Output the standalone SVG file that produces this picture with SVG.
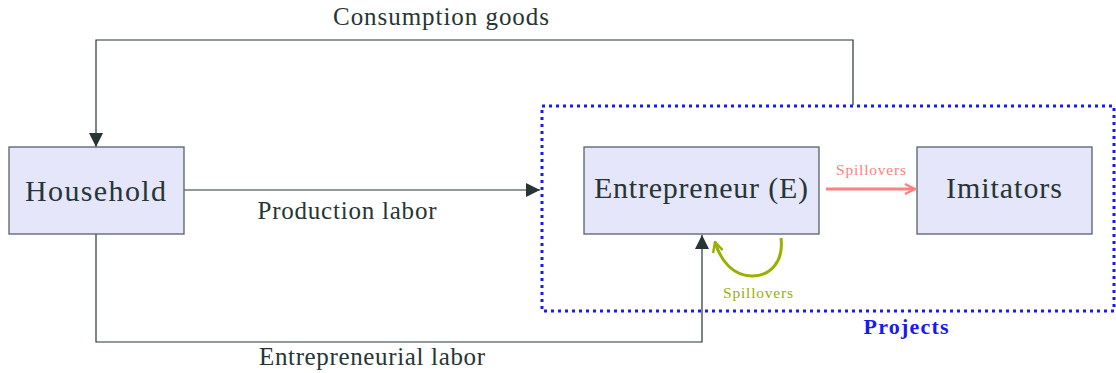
<svg xmlns="http://www.w3.org/2000/svg" width="1116" height="373" viewBox="0 0 1116 373">
  <style>
    .box { fill: #e6e6fa; stroke: #59606a; stroke-width: 1.3; }
    .lbl { font-family: "Liberation Serif", "DejaVu Serif", serif; fill: #263535; }
    .flow { fill: none; stroke: #263535; stroke-width: 1.2; }
  </style>
  <defs>
    <marker id="tri" viewBox="0 0 14 14" refX="14" refY="7" markerWidth="14" markerHeight="14" markerUnits="userSpaceOnUse" orient="auto">
      <path d="M0,0 L14,7 L0,14 Z" fill="#263535"/>
    </marker>
    <marker id="redhead" viewBox="0 0 12 12" refX="11" refY="6" markerWidth="12" markerHeight="12" markerUnits="userSpaceOnUse" orient="auto">
      <path d="M1,1 L11,6 L1,11" fill="none" stroke="#ff8080" stroke-width="2.4" stroke-linejoin="miter"/>
    </marker>
    <marker id="greenhead" viewBox="0 0 12 12" refX="11" refY="6" markerWidth="12" markerHeight="12" markerUnits="userSpaceOnUse" orient="auto">
      <path d="M1,1 L11,6 L1,11" fill="none" stroke="#9ab000" stroke-width="2.4"/>
    </marker>
  </defs>

  <!-- Projects boundary -->
  <g id="projects">
    <rect x="542" y="106" width="572" height="205" fill="none" stroke="#1a1aee" stroke-width="3" stroke-dasharray="3 4"/>
    <text x="906" y="334" text-anchor="middle" font-family="Liberation Serif, serif" font-weight="bold" font-size="22" fill="#1a1aee" textLength="85">Projects</text>
  </g>

  <!-- Connectors -->
  <g id="connectors">
    <path class="flow" d="M853,105 V40 H96 V147" marker-end="url(#tri)"/>
    <path class="flow" d="M184,190 H540" marker-end="url(#tri)"/>
    <path class="flow" d="M96,234 V342 H702 V235" marker-end="url(#tri)"/>
    <path d="M826,189 H915" fill="none" stroke="#ff8080" stroke-width="3" marker-end="url(#redhead)"/>
    <path d="M781,238 C784,262 770,276 752,276 C734,276 721,262 715,242" fill="none" stroke="#9ab000" stroke-width="3" marker-end="url(#greenhead)"/>
    <text class="lbl" x="441" y="25" text-anchor="middle" font-size="25" textLength="216">Consumption goods</text>
    <text class="lbl" x="347" y="219" text-anchor="middle" font-size="25" textLength="179">Production labor</text>
    <text class="lbl" x="372" y="365" text-anchor="middle" font-size="25" textLength="226">Entrepreneurial labor</text>
    <text x="871" y="175" text-anchor="middle" font-family="Liberation Serif, serif" font-size="15.5" fill="#ff8080" textLength="70">Spillovers</text>
    <text x="758" y="298" text-anchor="middle" font-family="Liberation Serif, serif" font-size="15.5" fill="#9ab000" textLength="70">Spillovers</text>
  </g>

  <!-- Nodes -->
  <g id="household">
    <rect class="box" x="9" y="147" width="175" height="87"/>
    <text class="lbl" x="95.5" y="201" text-anchor="middle" font-size="30" textLength="141">Household</text>
  </g>
  <g id="entrepreneur">
    <rect class="box" x="584" y="147" width="235" height="87"/>
    <text class="lbl" x="701" y="198" text-anchor="middle" font-size="30" textLength="214">Entrepreneur (E)</text>
  </g>
  <g id="imitators">
    <rect class="box" x="917" y="147" width="175" height="87"/>
    <text class="lbl" x="1004" y="198" text-anchor="middle" font-size="30" textLength="116">Imitators</text>
  </g>
</svg>
